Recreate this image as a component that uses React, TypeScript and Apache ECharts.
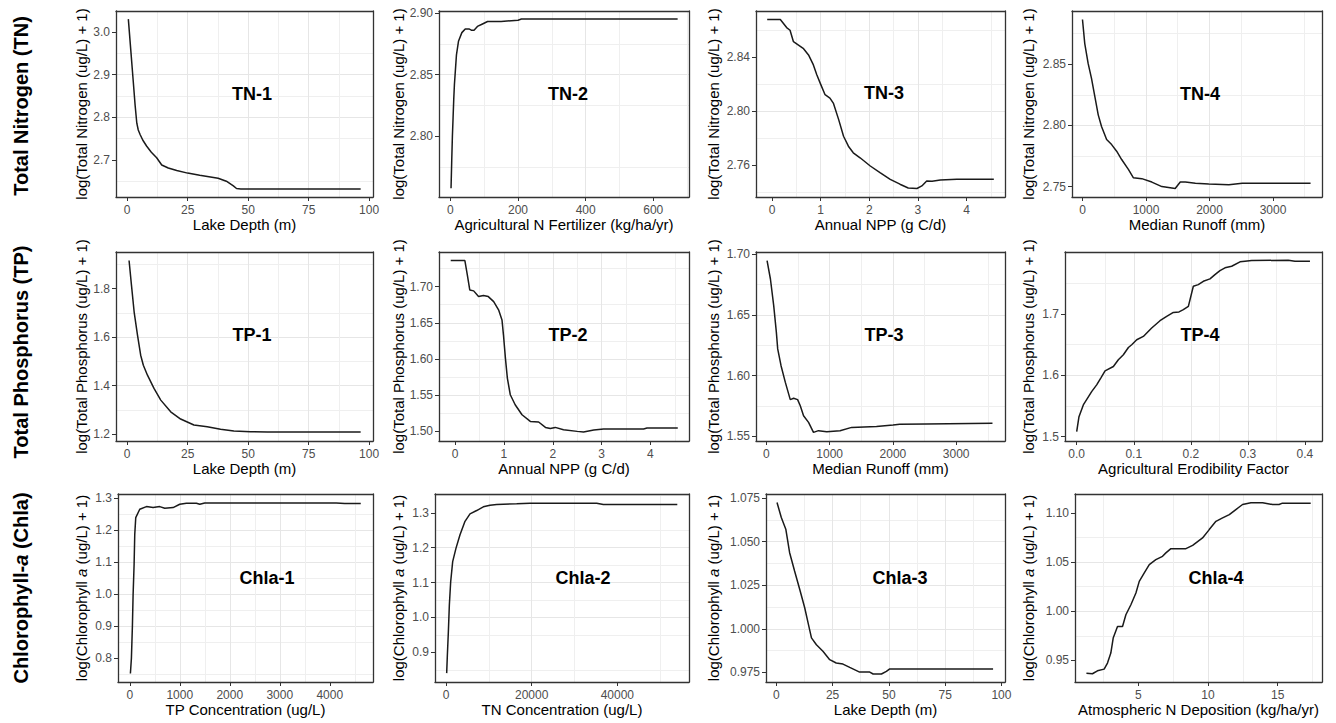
import React, { useEffect, useRef } from "react";
import * as echarts from "echarts";

// ---------- data ----------
const tn1X = [0.5, 1.5, 2.5, 3.3, 4.0, 4.6, 5.4, 6.5, 8.1, 10, 12.2, 14.3, 17, 20.5, 25, 30, 37.6, 41, 43.9, 45.2, 47, 60, 75, 90, 96.5];
const tn1Y = [3.03, 2.958, 2.886, 2.828, 2.786, 2.77, 2.759, 2.746, 2.732, 2.718, 2.705, 2.688, 2.681, 2.675, 2.669, 2.664, 2.657, 2.65, 2.639, 2.633, 2.632, 2.632, 2.632, 2.632, 2.632];

const tn2X = [2, 4, 6, 8, 10, 12, 14, 18, 24, 34, 44, 55, 62, 70, 80, 95, 110, 125, 150, 200, 210, 350, 500, 672];
const tn2Y = [2.758, 2.78, 2.8, 2.815, 2.83, 2.842, 2.85, 2.866, 2.877, 2.884, 2.887, 2.887, 2.886, 2.886, 2.889, 2.891, 2.893, 2.893, 2.893, 2.894, 2.895, 2.895, 2.895, 2.895];

const tn3X = [-0.1, 0.17, 0.3, 0.37, 0.44, 0.64, 0.75, 0.85, 0.92, 0.99, 1.09, 1.19, 1.26, 1.37, 1.47, 1.57, 1.67, 1.81, 2.02, 2.22, 2.43, 2.63, 2.8, 2.98, 3.08, 3.18, 3.29, 3.46, 3.8, 4.56];
const tn3Y = [2.868, 2.868, 2.862, 2.86, 2.8515, 2.8466, 2.8417, 2.8343, 2.827, 2.8208, 2.8122, 2.8097, 2.806, 2.7937, 2.7814, 2.774, 2.7691, 2.7654, 2.7593, 2.7544, 2.7494, 2.7458, 2.743, 2.7426, 2.7445, 2.7482, 2.748, 2.7489, 2.7494, 2.7494];

const tn4X = [0, 36, 89, 142, 195, 248, 300, 380, 459, 538, 617, 723, 800, 934, 1092, 1250, 1460, 1540, 1620, 1778, 1989, 2305, 2516, 3592];
const tn4Y = [2.8865, 2.8668, 2.8506, 2.8384, 2.8235, 2.8086, 2.7991, 2.7884, 2.7843, 2.7789, 2.7721, 2.764, 2.7573, 2.7565, 2.7537, 2.75, 2.7484, 2.7537, 2.7537, 2.7527, 2.7521, 2.7516, 2.7527, 2.7527];

const tp1X = [0.8, 1.8, 2.9, 4.3, 5.6, 6.7, 8.4, 11.1, 13.9, 18, 22.1, 27.6, 33.1, 38.6, 44.1, 51, 58, 75, 96.5];
const tp1Y = [1.9165, 1.8136, 1.7037, 1.6078, 1.5255, 1.4844, 1.4432, 1.3885, 1.3403, 1.2922, 1.2622, 1.2375, 1.2305, 1.2198, 1.2128, 1.2099, 1.2085, 1.2085, 1.2085];

const tp2X = [-0.09, 0.2, 0.25, 0.3, 0.38, 0.48, 0.58, 0.68, 0.79, 0.89, 0.96, 0.99, 1.03, 1.07, 1.13, 1.23, 1.37, 1.54, 1.71, 1.85, 1.95, 2.05, 2.22, 2.5, 2.63, 2.84, 3.04, 3.86, 3.93, 4.56];
const tp2Y = [1.7359, 1.7359, 1.7161, 1.6954, 1.6941, 1.6862, 1.6876, 1.6862, 1.6793, 1.6679, 1.654, 1.6334, 1.6012, 1.5736, 1.5506, 1.5368, 1.523, 1.5138, 1.513, 1.5055, 1.5041, 1.5055, 1.5023, 1.5, 1.4992, 1.502, 1.5033, 1.5033, 1.5047, 1.5047];

const tp3X = [10, 63, 115, 157, 178, 231, 299, 377, 430, 493, 535, 587, 666, 744, 823, 954, 1164, 1347, 1740, 2002, 2107, 2526, 3574];
const tp3Y = [1.6945, 1.6794, 1.6575, 1.6355, 1.6219, 1.6081, 1.5944, 1.5802, 1.5813, 1.5802, 1.5752, 1.567, 1.5615, 1.5533, 1.5547, 1.5539, 1.5547, 1.5574, 1.5582, 1.5594, 1.5599, 1.5602, 1.5607];

const tp4X = [0.0, 0.004, 0.0116, 0.0262, 0.035, 0.0427, 0.0497, 0.0643, 0.073, 0.0818, 0.0906, 0.0964, 0.1052, 0.1168, 0.1314, 0.146, 0.1577, 0.1694, 0.1793, 0.1869, 0.1957, 0.2044, 0.2131, 0.2219, 0.2336, 0.2423, 0.2511, 0.2599, 0.2716, 0.2862, 0.2949, 0.3066, 0.3708, 0.3825, 0.4088];
const tp4Y = [1.5082, 1.5327, 1.5518, 1.5735, 1.5845, 1.5964, 1.6074, 1.6144, 1.6253, 1.6335, 1.6454, 1.6498, 1.658, 1.6634, 1.6771, 1.689, 1.6961, 1.7026, 1.7033, 1.707, 1.7124, 1.7451, 1.7479, 1.7533, 1.7572, 1.7642, 1.7707, 1.7752, 1.7778, 1.785, 1.786, 1.7871, 1.7876, 1.786, 1.786];

const chla1X = [13, 33, 53, 67, 87, 100, 120, 200, 333, 467, 600, 700, 867, 1000, 1133, 1333, 1400, 1500, 3800, 4130, 4300, 4620];
const chla1Y = [0.7529, 0.8, 0.9, 0.9987, 1.0929, 1.187, 1.2394, 1.2655, 1.2739, 1.2708, 1.2739, 1.2686, 1.2708, 1.2812, 1.2843, 1.2843, 1.2812, 1.2853, 1.2853, 1.2853, 1.2834, 1.2834];

const chla2X = [156, 311, 545, 778, 1090, 1557, 2335, 3269, 4436, 5604, 7160, 8716, 10272, 11829, 16498, 19611, 35174, 36730, 54000];
const chla2Y = [0.8405, 0.8905, 0.9578, 1.035, 1.1023, 1.1601, 1.1988, 1.2373, 1.2757, 1.2971, 1.3066, 1.3173, 1.322, 1.324, 1.326, 1.3277, 1.3277, 1.324, 1.324];

const chla3X = [0.3, 2.2, 4.2, 5.9, 8.1, 10.4, 12.6, 14.1, 15.6, 17.8, 20.7, 23.7, 26.6, 29.6, 32.6, 37, 41.5, 43, 46.7, 48.9, 50.4, 96.3];
const chla3Y = [1.0725, 1.0639, 1.0572, 1.0437, 1.0332, 1.0226, 1.0121, 1.0034, 0.9948, 0.9909, 0.9871, 0.9823, 0.9804, 0.9798, 0.9779, 0.9752, 0.9752, 0.9741, 0.9741, 0.9756, 0.977, 0.977];

const chla4X = [1.28, 1.71, 2.07, 2.55, 2.79, 3.03, 3.2, 3.51, 3.87, 4.11, 4.47, 4.83, 5.07, 5.43, 5.79, 6.26, 6.74, 6.98, 7.34, 8.42, 8.9, 9.61, 10.09, 10.57, 11.05, 11.53, 12.0, 12.48, 13.08, 13.92, 14.63, 15.1, 15.34, 17.37];
const chla4Y = [0.937, 0.9364, 0.9394, 0.9411, 0.9473, 0.9574, 0.9727, 0.9845, 0.9845, 0.9964, 1.0066, 1.0185, 1.0303, 1.0389, 1.0474, 1.0524, 1.0558, 1.0593, 1.0636, 1.0636, 1.067, 1.0745, 1.083, 1.0914, 1.0949, 1.0983, 1.1034, 1.1085, 1.1102, 1.1102, 1.1085, 1.1085, 1.1099, 1.1099];

// ---------- tick labels ----------
const depthTicks = [0, 25, 50, 75, 100];
const fertTicks = [0, 200, 400, 600];
const nppTicks = [0, 1, 2, 3, 4];
const runoffTicks = [0, 1000, 2000, 3000];
const erodTicks = [0.0, 0.1, 0.2, 0.3, 0.4];
const tpConcTicks = [0, 1000, 2000, 3000, 4000];
const tnConcTicks = [0, 20000, 40000];
const depoTicks = [5, 10, 15];

const tn1YTicks = [2.7, 2.8, 2.9, 3.0];
const tn2YTicks = [2.8, 2.85, 2.9];
const tn3YTicks = [2.76, 2.8, 2.84];
const tn4YTicks = [2.75, 2.8, 2.85];
const tp1YTicks = [1.2, 1.4, 1.6, 1.8];
const tp2YTicks = [1.5, 1.55, 1.6, 1.65, 1.7];
const tp3YTicks = [1.55, 1.6, 1.65, 1.7];
const tp4YTicks = [1.5, 1.6, 1.7];
const chla1YTicks = [0.8, 0.9, 1.0, 1.1, 1.2, 1.3];
const chla2YTicks = [0.9, 1.0, 1.1, 1.2, 1.3];
const chla3YTicks = [0.975, 1.0, 1.025, 1.05, 1.075];
const chla4YTicks = [0.95, 1.0, 1.05, 1.1];

const rowLabels = ["Total Nitrogen (TN)", "Total Phosphorus (TP)", "{n|Chlorophyll-}{i|a}{n| (Chla)}"];
const yTitles = [
  "log(Total Nitrogen (ug/L) + 1)",
  "log(Total Phosphorus (ug/L) + 1)",
  "log(Chlorophyll {i|a} (ug/L) + 1)",
];

const FONT = "'Liberation Sans', Arial, Helvetica, sans-serif";

// ---------- layout ----------
const ROWS: [number, number][] = [[11, 197], [252, 441], [494, 682]];
const TITLE_COL = [81.5, 398, 713, 1028];
const ROW_LABEL_Y = [106, 352, 588];

type Panel = {
  label: string;
  xs: number[];
  ys: number[];
  row: number;
  col: number;
  left: number;
  right: number;
  xMin: number; xMax: number; xInt: number; xTicks: number[]; xDec: number; xName: string;
  yMin: number; yMax: number; yInt: number; yTicks: number[]; yDec: number;
  lab: [number, number];
};

const panels: Panel[] = [
  { label: "TN-1", xs: tn1X, ys: tn1Y, row: 0, col: 0, left: 116, right: 373, xMin: -4.6, xMax: 101.6, xInt: 25, xTicks: depthTicks, xDec: 0, xName: "Lake Depth (m)", yMin: 2.613, yMax: 3.049, yInt: 0.1, yTicks: tn1YTicks, yDec: 1, lab: [252, 94] },
  { label: "TN-2", xs: tn2X, ys: tn2Y, row: 0, col: 1, left: 439, right: 689, xMin: -33.6, xMax: 705.6, xInt: 200, xTicks: fertTicks, xDec: 0, xName: "Agricultural N Fertilizer (kg/ha/yr)", yMin: 2.751, yMax: 2.9015, yInt: 0.05, yTicks: tn2YTicks, yDec: 2, lab: [568, 94] },
  { label: "TN-3", xs: tn3X, ys: tn3Y, row: 0, col: 2, left: 756, right: 1005, xMin: -0.33, xMax: 4.79, xInt: 1, xTicks: nppTicks, xDec: 0, xName: "Annual NPP (g C/d)", yMin: 2.7363, yMax: 2.8743, yInt: 0.04, yTicks: tn3YTicks, yDec: 2, lab: [884, 93] },
  { label: "TN-4", xs: tn4X, ys: tn4Y, row: 0, col: 3, left: 1072, right: 1322, xMin: -165, xMax: 3772, xInt: 1000, xTicks: runoffTicks, xDec: 0, xName: "Median Runoff (mm)", yMin: 2.7415, yMax: 2.8934, yInt: 0.05, yTicks: tn4YTicks, yDec: 2, lab: [1200, 94] },
  { label: "TP-1", xs: tp1X, ys: tp1Y, row: 1, col: 0, left: 116, right: 373, xMin: -4.6, xMax: 101.6, xInt: 25, xTicks: depthTicks, xDec: 0, xName: "Lake Depth (m)", yMin: 1.1716, yMax: 1.9514, yInt: 0.2, yTicks: tp1YTicks, yDec: 1, lab: [252, 335] },
  { label: "TP-2", xs: tp2X, ys: tp2Y, row: 1, col: 1, left: 439, right: 689, xMin: -0.33, xMax: 4.79, xInt: 1, xTicks: nppTicks, xDec: 0, xName: "Annual NPP (g C/d)", yMin: 1.4867, yMax: 1.7478, yInt: 0.05, yTicks: tp2YTicks, yDec: 2, lab: [568, 335] },
  { label: "TP-3", xs: tp3X, ys: tp3Y, row: 1, col: 2, left: 756, right: 1005, xMin: -165, xMax: 3772, xInt: 1000, xTicks: runoffTicks, xDec: 0, xName: "Median Runoff (mm)", yMin: 1.5462, yMax: 1.7016, yInt: 0.05, yTicks: tp3YTicks, yDec: 2, lab: [884, 335] },
  { label: "TP-4", xs: tp4X, ys: tp4Y, row: 1, col: 3, left: 1065, right: 1322, xMin: -0.0205, xMax: 0.4299, xInt: 0.1, xTicks: erodTicks, xDec: 1, xName: "Agricultural Erodibility Factor", yMin: 1.493, yMax: 1.801, yInt: 0.1, yTicks: tp4YTicks, yDec: 1, lab: [1200, 335] },
  { label: "Chla-1", xs: chla1X, ys: chla1Y, row: 2, col: 0, left: 118, right: 373, xMin: -235, xMax: 4865, xInt: 1000, xTicks: tpConcTicks, xDec: 0, xName: "TP Concentration (ug/L)", yMin: 0.7262, yMax: 1.3132, yInt: 0.1, yTicks: chla1YTicks, yDec: 1, lab: [267, 578] },
  { label: "Chla-2", xs: chla2X, ys: chla2Y, row: 2, col: 1, left: 435, right: 689, xMin: -2570, xMax: 56730, xInt: 20000, xTicks: tnConcTicks, xDec: 0, xName: "TN Concentration (ug/L)", yMin: 0.815, yMax: 1.354, yInt: 0.1, yTicks: chla2YTicks, yDec: 1, lab: [583, 578] },
  { label: "Chla-3", xs: chla3X, ys: chla3Y, row: 2, col: 2, left: 766, right: 1005, xMin: -4.6, xMax: 101.6, xInt: 25, xTicks: depthTicks, xDec: 0, xName: "Lake Depth (m)", yMin: 0.9695, yMax: 1.0774, yInt: 0.025, yTicks: chla3YTicks, yDec: 3, lab: [900, 578] },
  { label: "Chla-4", xs: chla4X, ys: chla4Y, row: 2, col: 3, left: 1075, right: 1322, xMin: 0.46, xMax: 18.18, xInt: 5, xTicks: depoTicks, xDec: 0, xName: "Atmospheric N Deposition (kg/ha/yr)", yMin: 0.928, yMax: 1.1192, yInt: 0.05, yTicks: chla4YTicks, yDec: 2, lab: [1216, 578] },
];

const GRID_MAJOR = "#E6E6E6";
const GRID_MINOR = "#EFEFEF";
const BORDER = "#333333";
const TICK_TEXT = "#4D4D4D";

const frameLine = { show: true, onZero: false, lineStyle: { color: BORDER, width: 1.3 } };
const hidden = { show: false };

function buildOption() {
  const grid = panels.map((p) => {
    const [top, bottom] = ROWS[p.row];
    return {
      left: p.left,
      top,
      width: p.right - p.left,
      height: bottom - top,
      show: false,
      containLabel: false,
      outerBoundsMode: "none",
    };
  });

  const xAxis: any[] = panels.map((p, i) => ({
    type: "value",
    gridIndex: i,
    position: "bottom",
    min: p.xMin,
    max: p.xMax,
    minInterval: p.xInt,
    maxInterval: p.xInt,
    name: p.xName,
    nameLocation: "middle",
    nameGap: 19,
    nameTextStyle: { fontSize: 15, color: "#000", fontFamily: FONT },
    axisLine: frameLine,
    axisTick: { show: true, inside: false, length: 4, customValues: p.xTicks, lineStyle: { color: BORDER, width: 1 } },
    axisLabel: {
      customValues: p.xTicks,
      formatter: (v: number) => v.toFixed(p.xDec),
      color: TICK_TEXT,
      fontSize: 12,
      fontFamily: FONT,
      margin: 7,
    },
    splitLine: { show: true, showMinLine: false, showMaxLine: false, lineStyle: { color: GRID_MAJOR, width: 1 } },
    minorTick: { show: false, splitNumber: 2 },
    minorSplitLine: { show: true, lineStyle: { color: GRID_MINOR, width: 1 } },
  }));
  // top frame edges
  panels.forEach((p, i) => {
    xAxis.push({
      type: "value",
      gridIndex: i,
      position: "top",
      min: p.xMin,
      max: p.xMax,
      axisLine: frameLine,
      axisTick: hidden,
      axisLabel: hidden,
      splitLine: hidden,
      minorSplitLine: hidden,
    });
  });

  const yAxis: any[] = panels.map((p, i) => ({
    type: "value",
    gridIndex: i,
    position: "left",
    min: p.yMin,
    max: p.yMax,
    minInterval: p.yInt,
    maxInterval: p.yInt,
    name: yTitles[p.row],
    nameLocation: "middle",
    nameGap: p.left - TITLE_COL[p.col] - 7.5,
    nameTextStyle: {
      fontSize: 15,
      color: "#000",
      fontFamily: FONT,
      rich: { i: { fontSize: 15, color: "#000", fontFamily: FONT, fontStyle: "italic" } },
    },
    axisLine: frameLine,
    axisTick: { show: true, inside: false, length: 4, customValues: p.yTicks, lineStyle: { color: BORDER, width: 1 } },
    axisLabel: {
      customValues: p.yTicks,
      formatter: (v: number) => v.toFixed(p.yDec),
      color: TICK_TEXT,
      fontSize: 12,
      fontFamily: FONT,
      margin: 6,
    },
    splitLine: { show: true, showMinLine: false, showMaxLine: false, lineStyle: { color: GRID_MAJOR, width: 1 } },
    minorTick: { show: false, splitNumber: 2 },
    minorSplitLine: { show: true, lineStyle: { color: GRID_MINOR, width: 1 } },
  }));
  // right frame edges
  panels.forEach((p, i) => {
    yAxis.push({
      type: "value",
      gridIndex: i,
      position: "right",
      min: p.yMin,
      max: p.yMax,
      axisLine: frameLine,
      axisTick: hidden,
      axisLabel: hidden,
      splitLine: hidden,
      minorSplitLine: hidden,
    });
  });

  const series = panels.map((p, i) => ({
    type: "line",
    name: p.label,
    xAxisIndex: i,
    yAxisIndex: i,
    data: p.xs.map((x, j) => [x, p.ys[j]]),
    showSymbol: false,
    symbol: "none",
    silent: true,
    lineStyle: { color: "#1A1A1A", width: 1.5 },
    z: 5,
  }));

  const graphic: any[] = [];
  panels.forEach((p) => {
    graphic.push({
      type: "text",
      x: p.lab[0],
      y: p.lab[1],
      z: 10,
      style: {
        text: p.label,
        fontSize: 18,
        fontWeight: "bold",
        fontFamily: FONT,
        fill: "#000",
        align: "center",
        verticalAlign: "middle",
      },
    });
  });
  rowLabels.forEach((t, r) => {
    graphic.push({
      type: "text",
      x: 21,
      y: ROW_LABEL_Y[r],
      rotation: Math.PI / 2,
      z: 10,
      style: {
        text: t,
        fontSize: 20,
        fontWeight: "bold",
        fontFamily: FONT,
        fill: "#000",
        align: "center",
        verticalAlign: "middle",
        rich: {
          n: { fontSize: 20, fontWeight: "bold", fontFamily: FONT, fill: "#000" },
          i: { fontSize: 20, fontWeight: "bold", fontFamily: FONT, fill: "#000", fontStyle: "italic" },
        },
      },
    });
  });

  return {
    animation: false,
    backgroundColor: "#ffffff",
    grid,
    xAxis,
    yAxis,
    series,
    graphic,
  };
}

export default function App() {
  const ref = useRef<HTMLDivElement>(null);
  useEffect(() => {
    if (!ref.current) return;
    const chart = echarts.init(ref.current, undefined, { renderer: "svg" });
    chart.setOption(buildOption() as any);
    return () => {
      chart.dispose();
    };
  }, []);
  return (
    <div
      ref={ref}
      style={{ position: "absolute", left: 0, top: 0, width: 1336, height: 723, background: "#fff" }}
    />
  );
}
